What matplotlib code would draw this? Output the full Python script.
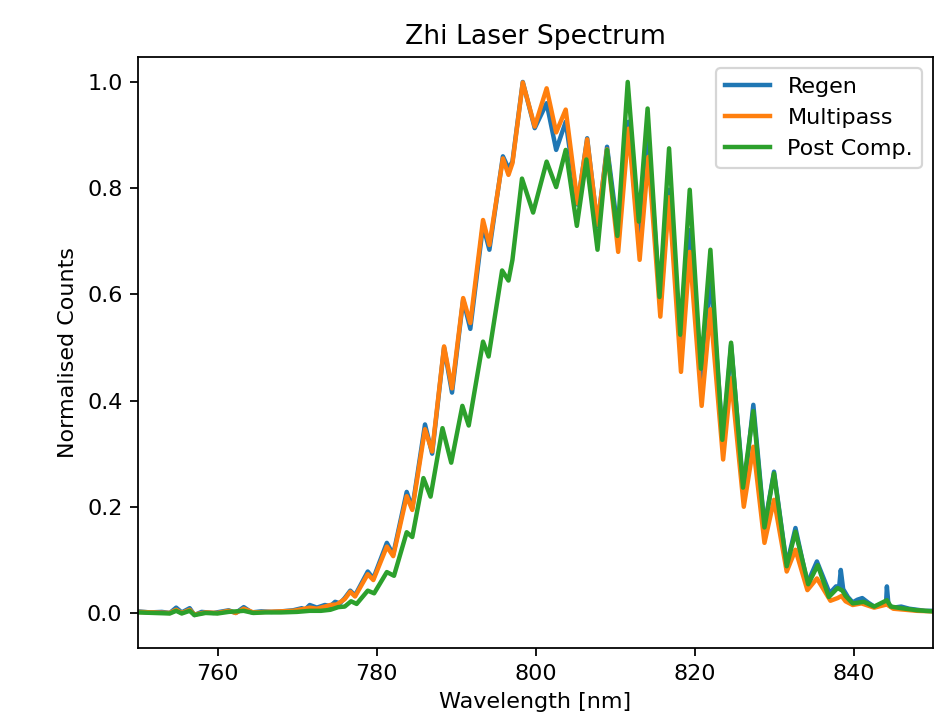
import matplotlib
matplotlib.use("Agg")
import matplotlib.pyplot as plt

# Regen
regen_wl = [750.0, 751.5, 753.0, 754.0, 754.8, 755.5, 756.5, 757.1, 758.0, 759.5, 761.4, 762.3, 763.3, 764.3,
            765.5, 766.8, 768.0, 769.5, 770.6, 771.0, 771.6, 772.5, 773.5, 774.2, 774.8, 775.4, 776.0, 776.7,
            777.3, 778.9, 779.6, 781.3, 782.1, 783.8, 784.5, 786.1, 787.0, 788.5, 789.5, 790.9, 791.8, 793.4,
            794.2, 795.9, 796.6, 797.1, 798.4, 799.9, 801.4, 802.6, 803.8, 805.3, 806.5, 807.8, 809.0, 810.4,
            811.7, 813.1, 814.2, 815.7, 816.8, 818.3, 819.4, 820.9, 822.0, 823.6, 824.6, 826.2, 827.4, 828.8,
            830.0, 831.6, 832.7, 834.2, 835.4, 837.0, 837.8, 838.2, 838.4, 838.7, 839.3, 839.9, 840.5, 841.1,
            841.8, 842.6, 843.5, 844.1, 844.2, 844.4, 845.0, 846.0, 847.0, 848.0, 849.0, 850.0]
regen_val = [0.003, 0.001, 0.002, 0.000, 0.010, 0.001, 0.009, -0.004, 0.002, 0.000, 0.005, 0.000, 0.011, 0.001,
             0.003, 0.002, 0.003, 0.005, 0.009, 0.006, 0.015, 0.010, 0.015, 0.013, 0.021, 0.018, 0.028, 0.042,
             0.033, 0.078, 0.065, 0.132, 0.110, 0.228, 0.197, 0.355, 0.300, 0.500, 0.415, 0.590, 0.535, 0.730,
             0.684, 0.860, 0.837, 0.850, 1.000, 0.913, 0.960, 0.872, 0.925, 0.769, 0.894, 0.728, 0.878, 0.715,
             0.925, 0.684, 0.888, 0.577, 0.797, 0.489, 0.721, 0.414, 0.640, 0.320, 0.505, 0.225, 0.392, 0.163,
             0.266, 0.090, 0.160, 0.056, 0.097, 0.037, 0.050, 0.050, 0.081, 0.045, 0.030, 0.020, 0.025, 0.028,
             0.020, 0.012, 0.015, 0.020, 0.050, 0.015, 0.010, 0.012, 0.008, 0.006, 0.004, 0.004]

# Multipass
multi_wl = [750.0, 752.0, 754.0, 754.8, 755.5, 756.5, 757.1, 758.5, 760.0, 761.4, 762.3, 763.3, 764.5, 766.0,
            768.0, 769.5, 770.6, 771.6, 772.5, 773.5, 774.2, 775.0, 776.0, 776.7, 777.3, 778.9, 779.6, 781.3,
            782.1, 783.8, 784.5, 786.1, 787.0, 788.5, 789.5, 790.9, 791.8, 793.4, 794.2, 795.9, 796.6, 797.1,
            798.4, 799.9, 801.4, 802.6, 803.8, 805.3, 806.5, 807.8, 809.0, 810.4, 811.7, 813.1, 814.2, 815.7,
            816.8, 818.3, 819.4, 820.9, 822.0, 823.6, 824.6, 826.2, 827.4, 828.8, 830.0, 831.6, 832.7, 834.2,
            835.4, 837.1, 838.0, 838.5, 839.0, 839.9, 841.0, 842.6, 844.2, 845.0, 846.5, 848.0, 850.0]
multi_val = [0.002, 0.001, 0.000, 0.006, 0.000, 0.006, -0.003, 0.001, 0.000, 0.004, 0.000, 0.008, 0.001, 0.002,
             0.003, 0.004, 0.007, 0.010, 0.008, 0.012, 0.015, 0.016, 0.026, 0.040, 0.031, 0.073, 0.062, 0.125,
             0.107, 0.220, 0.194, 0.346, 0.304, 0.502, 0.423, 0.593, 0.546, 0.740, 0.693, 0.856, 0.825, 0.847,
             0.999, 0.916, 0.988, 0.905, 0.948, 0.771, 0.892, 0.731, 0.873, 0.680, 0.912, 0.665, 0.859, 0.558,
             0.783, 0.454, 0.680, 0.390, 0.572, 0.289, 0.442, 0.200, 0.313, 0.132, 0.213, 0.078, 0.119, 0.043,
             0.065, 0.023, 0.028, 0.032, 0.022, 0.015, 0.018, 0.010, 0.016, 0.008, 0.006, 0.004, 0.003]

# Post Comp.
post_wl = [750.0, 752.0, 754.0, 754.8, 755.5, 756.5, 757.1, 758.5, 760.0, 761.4, 763.3, 764.5, 766.0, 768.0,
           770.0, 771.6, 773.0, 774.2, 775.2, 776.0, 776.8, 777.5, 778.9, 779.7, 781.3, 782.2, 783.8, 784.5,
           785.9, 786.8, 788.3, 789.4, 790.8, 791.6, 793.4, 794.1, 795.8, 796.6, 797.1, 798.3, 799.7, 801.4,
           802.6, 803.8, 805.2, 806.4, 807.8, 809.0, 810.3, 811.6, 813.0, 814.1, 815.6, 816.8, 818.2, 819.4,
           820.8, 822.0, 823.5, 824.6, 826.1, 827.4, 828.8, 830.0, 831.6, 832.7, 834.3, 835.5, 836.9, 838.0,
           838.6, 839.0, 839.9, 841.3, 842.6, 844.2, 844.7, 846.0, 848.0, 850.0]
post_val = [0.001, 0.000, -0.001, 0.004, -0.001, 0.004, -0.004, 0.000, -0.001, 0.002, 0.004, 0.000, 0.001, 0.001,
            0.002, 0.004, 0.004, 0.006, 0.011, 0.012, 0.022, 0.017, 0.042, 0.037, 0.077, 0.070, 0.152, 0.143,
            0.254, 0.219, 0.348, 0.283, 0.390, 0.353, 0.511, 0.483, 0.645, 0.626, 0.665, 0.818, 0.754, 0.850,
            0.802, 0.872, 0.729, 0.854, 0.684, 0.872, 0.710, 1.000, 0.737, 0.950, 0.595, 0.875, 0.524, 0.797,
            0.460, 0.684, 0.326, 0.509, 0.236, 0.380, 0.161, 0.263, 0.088, 0.153, 0.054, 0.090, 0.030, 0.047,
            0.042, 0.032, 0.018, 0.021, 0.012, 0.024, 0.012, 0.009, 0.005, 0.003]

W, H, DPI = 943, 712, 160
fig = plt.figure(figsize=(W / DPI, H / DPI), dpi=DPI)
ax = fig.add_axes([138 / W, (H - 648) / H, 795 / W, 591 / H])

lw = 2.0
ax.plot(regen_wl, regen_val, label="Regen", lw=lw)
ax.plot(multi_wl, multi_val, label="Multipass", lw=lw)
ax.plot(post_wl, post_val, label="Post Comp.", lw=lw)

ax.set_xlim(750, 850)
ax.set_ylim(-0.066, 1.047)
ax.set_xticks([760, 780, 800, 820, 840])
ax.set_xlabel("Wavelength [nm]")
ax.set_ylabel("Normalised Counts")
ax.set_title("Zhi Laser Spectrum")
ax.legend(loc="upper right")

fig.savefig("out.png", dpi=DPI)
